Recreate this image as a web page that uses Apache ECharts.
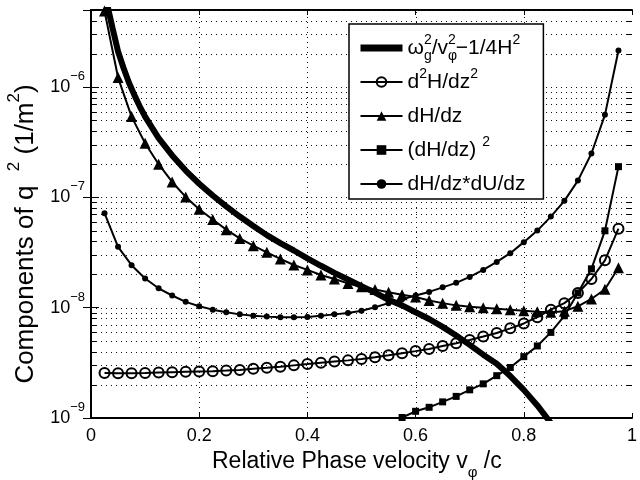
<!DOCTYPE html>
<html><head><meta charset="utf-8">
<script src="https://cdn.jsdelivr.net/npm/echarts@6/dist/echarts.min.js"></script>
<style>html,body{margin:0;padding:0;background:#fff}#c{width:640px;height:480px}</style>
</head><body><div id="c"></div>
<script>
// ---- data ----
const phaseVel = [0.025,0.05,0.075,0.1,0.125,0.15,0.175,0.2,0.225,0.25,0.275,0.3,0.325,0.35,0.375,0.4,0.425,0.45,0.475,0.5,0.525,0.55,0.575,0.6,0.625,0.65,0.675,0.7,0.725,0.75,0.775,0.8,0.825,0.85,0.875,0.9,0.925,0.95,0.975];
const d2Hdz2 = [2.56e-9,2.55e-9,2.55e-9,2.56e-9,2.58e-9,2.6e-9,2.62e-9,2.64e-9,2.66e-9,2.69e-9,2.73e-9,2.79e-9,2.85e-9,2.92e-9,3.0e-9,3.08e-9,3.17e-9,3.25e-9,3.33e-9,3.43e-9,3.56e-9,3.71e-9,3.87e-9,4.04e-9,4.23e-9,4.5e-9,4.77e-9,5.1e-9,5.48e-9,5.9e-9,6.5e-9,7.2e-9,8.2e-9,9.6e-9,1.1e-8,1.36e-8,1.82e-8,2.69e-8,5.2e-8];
const dHdz = [4.9e-6,1.22e-6,5.4e-7,3.1e-7,2.0e-7,1.38e-7,1.01e-7,7.8e-8,6.3e-8,5.1e-8,4.25e-8,3.65e-8,3.18e-8,2.77e-8,2.44e-8,2.2e-8,1.98e-8,1.82e-8,1.66e-8,1.55e-8,1.46e-8,1.38e-8,1.31e-8,1.25e-8,1.16e-8,1.1e-8,1.05e-8,1.02e-8,1.0e-8,9.8e-9,9.6e-9,9.4e-9,9.2e-9,9.1e-9,9.3e-9,1.03e-8,1.2e-8,1.47e-8,2.3e-8];
const dHdzdUdz = [7.2e-8,3.56e-8,2.43e-8,1.84e-8,1.5e-8,1.29e-8,1.13e-8,1.03e-8,9.6e-9,9.1e-9,8.7e-9,8.45e-9,8.3e-9,8.2e-9,8.2e-9,8.25e-9,8.45e-9,8.7e-9,8.95e-9,9.4e-9,1.01e-8,1.1e-8,1.19e-8,1.29e-8,1.39e-8,1.53e-8,1.68e-8,1.9e-8,2.2e-8,2.6e-8,3.12e-8,3.93e-8,5.0e-8,6.7e-8,9.3e-8,1.42e-7,2.5e-7,5.6e-7,2.15e-6];
const sqVel = [0.575,0.6,0.625,0.65,0.675,0.7,0.725,0.75,0.775,0.8,0.825,0.85,0.875,0.9,0.925,0.95,0.975];
const dHdzSq = [1.01e-9,1.15e-9,1.25e-9,1.4e-9,1.57e-9,1.8e-9,2.04e-9,2.42e-9,2.87e-9,3.6e-9,4.5e-9,5.97e-9,8.45e-9,1.36e-8,2.25e-8,4.98e-8,1.9e-7];
const omegaVel = [0.03,0.04,0.05,0.06,0.07,0.08,0.09,0.1,0.125,0.15,0.175,0.2,0.225,0.25,0.275,0.3,0.325,0.35,0.375,0.4,0.425,0.45,0.475,0.5,0.525,0.55,0.575,0.6,0.625,0.65,0.675,0.7,0.725,0.75,0.775,0.8,0.825,0.85];
const omegaTerm = [5.6e-6,3.4e-6,2.1e-6,1.5e-6,1.1e-6,8.5e-7,6.7e-7,5.4e-7,3.45e-7,2.4e-7,1.75e-7,1.33e-7,1.04e-7,8.3e-8,6.7e-8,5.5e-8,4.55e-8,3.85e-8,3.3e-8,2.8e-8,2.4e-8,2.07e-8,1.8e-8,1.57e-8,1.37e-8,1.18e-8,1.05e-8,9.1e-9,7.9e-9,6.7e-9,5.6e-9,4.6e-9,3.75e-9,3.1e-9,2.4e-9,1.8e-9,1.3e-9,9e-10];
const xTickLabels = ['0','0.2','0.4','0.6','0.8','1'];
const xGridVals = [0.2, 0.4, 0.6, 0.8];
const decadeVals = [1e-8, 1e-7, 1e-6];
const legendLabels = {
  omega: 'ω{z|g}{s|2}/v{z|φ}{s|2}−1/4H{s|2}',
  d2H: 'd{s|2}H/dz{s|2}',
  dH: 'dH/dz',
  dHsq: '(dH/dz) {s|2}',
  dHdU: 'dH/dz*dU/dz'
};

const FONT = '"Liberation Sans", Arial, sans-serif';
function pairs(xs, ys) { return xs.map((x, i) => [x, ys[i]]); }

// minor log grid positions (2..9 x 10^n)
const minorVals = [];
for (let e = -9; e <= -6; e++) for (let k = 2; k <= 9; k++) { const v = k * Math.pow(10, e); if (v <= 5.01e-6) minorVals.push(v); }

const chart = echarts.init(document.getElementById('c'), null, {renderer: 'canvas'});
const supRich = {fontSize: 13, fontFamily: FONT, verticalAlign: 'top', lineHeight: 13, color: '#000'};

chart.setOption({
  animation: false,
  backgroundColor: '#fff',
  grid: {left: 91, top: 10, right: -1, bottom: 62},
  xAxis: [{
    type: 'value', min: 0, max: 1, interval: 0.2, position: 'bottom',
    axisLine: {show: true, lineStyle: {color: '#000', width: 2}},
    axisTick: {show: true, inside: true, length: 5, lineStyle: {color: '#000', width: 1}},
    axisLabel: {show: true, margin: 9, fontSize: 18, fontFamily: FONT, color: '#000',
      formatter: v => xTickLabels[Math.round(v / 0.2)] || ''},
    splitLine: {show: false}
  }, {
    type: 'value', min: 0, max: 1, interval: 0.2, position: 'top',
    axisLine: {show: true, lineStyle: {color: '#000', width: 2}},
    axisTick: {show: true, inside: true, length: 5, lineStyle: {color: '#000', width: 1}},
    axisLabel: {show: false}, splitLine: {show: false}
  }],
  yAxis: [{
    type: 'log', logBase: 10, min: 1e-9, max: 5e-6, position: 'left',
    axisLine: {show: true, lineStyle: {color: '#000', width: 2}},
    axisTick: {show: true, inside: true, length: 8, lineStyle: {color: '#000', width: 1}},
    axisLabel: {show: true, margin: 6, fontSize: 18, fontFamily: FONT, color: '#000', lineHeight: 34,
      formatter: v => { const e = Math.log10(v); if (Math.abs(e - Math.round(e)) > 1e-6) return ''; return '10{s|−' + Math.abs(Math.round(e)) + '}'; },
      rich: {s: supRich}},
    splitLine: {show: false}
  }, {
    type: 'log', logBase: 10, min: 1e-9, max: 5e-6, position: 'right',
    axisLine: {show: true, lineStyle: {color: '#000', width: 2}},
    axisTick: {show: true, inside: true, length: 8, lineStyle: {color: '#000', width: 1}},
    axisLabel: {show: false}, splitLine: {show: false}
  }],
  legend: {
    data: [
      {name: 'omega', itemStyle: {opacity: 0}, lineStyle: {width: 7, color: '#000'}},
      'd2H', 'dH', 'dHsq', 'dHdU'
    ],
    orient: 'vertical', left: 349, top: 24,
    itemWidth: 42, itemHeight: 12, itemGap: 4,
    backgroundColor: '#fff', borderColor: '#000', borderWidth: 1.5, borderRadius: 0,
    padding: [9, 18, 0, 8],
    formatter: n => legendLabels[n],
    textStyle: {fontFamily: FONT, fontSize: 21, color: '#000', lineHeight: 30,
      rich: {s: {fontSize: 14, fontFamily: FONT, verticalAlign: 'top', lineHeight: 14, color: '#000'},
             z: {fontSize: 14, fontFamily: FONT, verticalAlign: 'bottom', lineHeight: 14, width: 0, color: '#000'}}}
  },
  graphic: [{
    type: 'text', x: 212, y: 444, silent: true,
    style: {text: 'Relative Phase velocity v{z|φ} /c', fill: '#000', fontFamily: FONT, fontSize: 23,
      lineHeight: 36, align: 'left', verticalAlign: 'top',
      rich: {z: {fontSize: 15, fontFamily: FONT, verticalAlign: 'bottom', lineHeight: 15, fill: '#000'}}}
  }, {
    type: 'text', x: 26, y: 234, rotation: Math.PI / 2, silent: true,
    style: {text: 'Components of q  {s|2} (1/m{s|2})', fill: '#000', fontFamily: FONT, fontSize: 26,
      lineHeight: 40, align: 'center', verticalAlign: 'middle',
      rich: {s: {fontSize: 17, fontFamily: FONT, verticalAlign: 'top', lineHeight: 17, fill: '#000'}}}
  }],
  series: [
    {name: 'hgrid', type: 'custom', silent: true, z: 1, clip: false,
      data: minorVals.map(v => [0, v, 1]).concat(decadeVals.map(v => [0, v, 0])),
      renderItem: (params, api) => {
        const v = api.value(1);
        const minor = api.value(2) === 1;
        const p0 = api.coord([0, v]);
        const p1 = api.coord([1, v]);
        const y = Math.round(p0[1]) + 0.5;
        const children = [
          {type: 'line', shape: {x1: p0[0], y1: y, x2: p1[0], y2: y}, style: {stroke: '#111', lineWidth: 1, lineDash: [1, 4]}}
        ];
        if (minor) {
          children.push({type: 'line', shape: {x1: p0[0], y1: y, x2: p0[0] + 5, y2: y}, style: {stroke: '#000', lineWidth: 1}});
          children.push({type: 'line', shape: {x1: p1[0] - 5, y1: y, x2: p1[0], y2: y}, style: {stroke: '#000', lineWidth: 1}});
        }
        return {type: 'group', children};
      }},
    {name: 'vgrid', type: 'custom', silent: true, z: 1, clip: false,
      data: xGridVals.map(x => [x, 1e-9]),
      renderItem: (params, api) => {
        const x = api.value(0);
        const p0 = api.coord([x, 1e-9]);
        const p1 = api.coord([x, 5e-6]);
        const px = Math.round(p0[0]) + 0.5;
        return {type: 'line', shape: {x1: px, y1: p0[1], x2: px, y2: p1[1]}, style: {stroke: '#111', lineWidth: 1, lineDash: [1, 4]}};
      }},
    {name: 'omega', type: 'line', data: pairs(omegaVel, omegaTerm), symbol: 'none', clip: true,
      lineStyle: {width: 6, color: '#000'}, itemStyle: {color: '#000'}, z: 5, emphasis: {disabled: true}},
    {name: 'd2H', type: 'line', data: pairs(phaseVel, d2Hdz2), symbol: 'circle', symbolSize: 10,
      lineStyle: {width: 2, color: '#000'}, itemStyle: {color: 'rgba(255,255,255,0)', borderColor: '#000', borderWidth: 2},
      z: 4, emphasis: {disabled: true}},
    {name: 'dH', type: 'line', data: pairs(phaseVel, dHdz), symbol: 'triangle', symbolSize: 11,
      lineStyle: {width: 2, color: '#000'}, itemStyle: {color: '#000'}, z: 4, emphasis: {disabled: true}},
    {name: 'dHsq', type: 'line', data: pairs(sqVel, dHdzSq), symbol: 'rect', symbolSize: 7,
      lineStyle: {width: 2, color: '#000'}, itemStyle: {color: '#000'}, z: 4, emphasis: {disabled: true}},
    {name: 'dHdU', type: 'line', data: pairs(phaseVel, dHdzdUdz), symbol: 'circle', symbolSize: 6,
      lineStyle: {width: 2, color: '#000'}, itemStyle: {color: '#000'}, z: 4, emphasis: {disabled: true}}
  ]
});
</script></body></html>
